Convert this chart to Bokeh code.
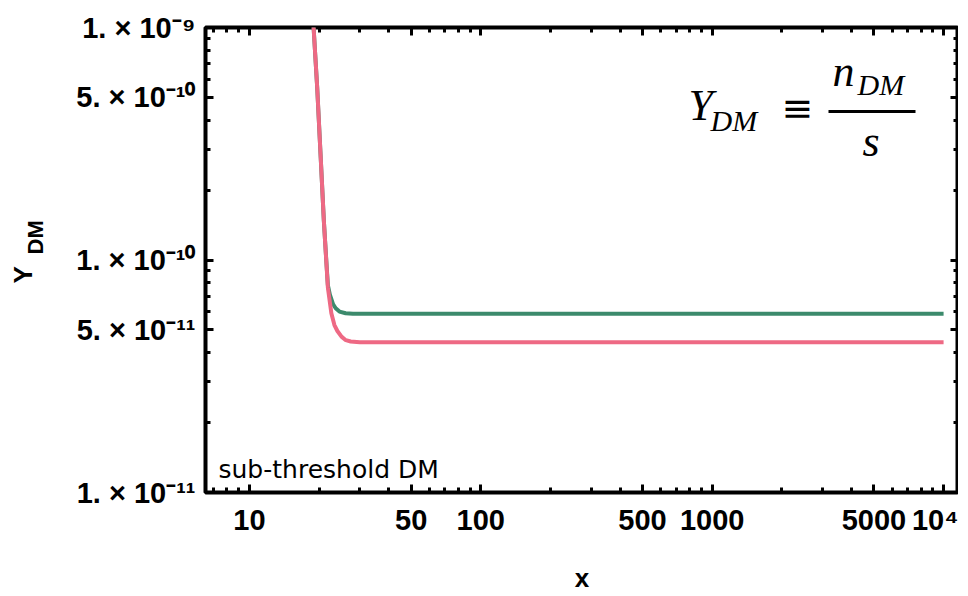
import numpy as np
from bokeh.plotting import figure
from bokeh.layouts import row
from bokeh.models import (LogAxis, FixedTicker, Label, BoxAnnotation, Range1d,
                          CustomJSTickFormatter)
from bokeh.embed import file_html
from bokeh.resources import INLINE

# ---------------- data ----------------
x_green = [18.0, 18.94, 19.63, 20.29, 20.97, 21.5, 21.83, 22.27, 23.0, 23.6, 24.5,
           26.06, 28.0, 35.0, 100.0, 1000.0, 10000.0]
y_green = [2.6e-9, 1.0e-9, 5.52e-10, 2.87e-10, 1.48e-10, 9.9e-11, 7.8e-11, 7.1e-11,
           6.45e-11, 6.2e-11, 6.0e-11, 5.9e-11, 5.87e-11, 5.87e-11, 5.87e-11,
           5.87e-11, 5.87e-11]

x_pink = [18.0, 18.94, 19.63, 20.29, 20.97, 21.83, 22.6, 23.3, 24.0, 25.0, 26.1,
          27.4, 30.0, 100.0, 1000.0, 10000.0]
y_pink = [2.6e-9, 1.0e-9, 5.52e-10, 2.87e-10, 1.48e-10, 7.62e-11, 5.9e-11, 5.25e-11,
          4.95e-11, 4.68e-11, 4.52e-11, 4.46e-11, 4.43e-11, 4.43e-11, 4.43e-11,
          4.43e-11]

x_major = [10, 50, 100, 500, 1000, 5000, 10000]
x_major_labels = ["10", "50", "100", "500", "1000", "5000", "10⁴"]
x_minor = [7, 8, 9, 20, 30, 40, 60, 70, 80, 90, 200, 300, 400, 600, 700, 800, 900,
           2000, 3000, 4000, 6000, 7000, 8000, 9000]

y_major = [1e-11, 5e-11, 1e-10, 5e-10, 1e-9]
y_major_labels = ["1. × 10⁻¹¹", "5. × 10⁻¹¹", "1. × 10⁻¹⁰", "5. × 10⁻¹⁰", "1. × 10⁻⁹"]
y_minor = [2e-11, 3e-11, 4e-11, 6e-11, 7e-11, 8e-11, 9e-11,
           2e-10, 3e-10, 4e-10, 6e-10, 7e-10, 8e-10, 9e-10]

x_range = (6.46, 11600)
y_range = (1e-11, 1e-9)

GREEN = "#3c8a6c"
PINK = "#ee6984"

# ---------------- layout constants ----------------
LW = 48              # width of the strip that carries the rotated y label
FT, FH = 27, 465     # frame top / height
FL, FB = 205, 492    # frame left / bottom on the page
BOT = 100
K = 0.36             # baseline correction (fraction of font size)


def strip_fig():
    f = figure(frame_width=LW, frame_height=FH, min_border_left=0,
               min_border_right=0, min_border_top=FT, min_border_bottom=BOT,
               x_range=(0, 1), y_range=(0, 1),
               x_axis_location=None, y_axis_location=None,
               output_backend="svg", toolbar_location=None)
    f.outline_line_color = None
    f.grid.visible = False
    f.background_fill_color = "white"
    f.border_fill_color = "white"
    return f


lf = strip_fig()

p = figure(x_axis_type="log", y_axis_type="log",
           x_range=Range1d(*x_range), y_range=Range1d(*y_range),
           frame_width=753, frame_height=FH,
           min_border_left=FL - LW, min_border_top=FT, min_border_right=0,
           min_border_bottom=BOT,
           output_backend="svg", toolbar_location=None)
p.background_fill_color = "white"
p.border_fill_color = "white"
p.grid.visible = False
p.outline_line_color = "black"
p.outline_line_width = 4
p.outline_line_alpha = 1

xt = FixedTicker(ticks=x_major, minor_ticks=x_minor)
yt = FixedTicker(ticks=y_major, minor_ticks=y_minor)


def style_axis(ax, size=29):
    ax.axis_line_color = None
    ax.major_tick_in = 8
    ax.major_tick_out = 0
    ax.minor_tick_in = 5
    ax.minor_tick_out = 0
    ax.major_tick_line_width = 3
    ax.minor_tick_line_width = 3
    ax.major_tick_line_color = "black"
    ax.minor_tick_line_color = "black"
    ax.major_label_text_font = "Liberation Sans"
    ax.major_label_text_font_style = "bold"
    ax.major_label_text_font_size = f"{size}px"
    ax.major_label_text_color = "black"


xa = p.xaxis[0]
xa.ticker = xt
xa.major_label_overrides = {t: s for t, s in zip(x_major, x_major_labels)}
style_axis(xa, 29)
xa.major_label_standoff = 11
xa.axis_label = "x"
xa.axis_label_text_font = "Liberation Sans"
xa.axis_label_text_font_style = "bold"
xa.axis_label_text_font_size = "26px"
xa.axis_label_text_color = "black"
xa.axis_label_standoff = 24

ya = p.yaxis[0]
ya.ticker = yt
ya.major_label_overrides = {t: s for t, s in zip(y_major, y_major_labels)}
style_axis(ya, 29)
ya.major_label_standoff = 10

blank = CustomJSTickFormatter(code="return ''")
top = LogAxis(ticker=xt, formatter=blank)
style_axis(top)
top.major_label_text_font_size = "0px"
top.major_label_standoff = 0
p.add_layout(top, "above")
right = LogAxis(ticker=yt, formatter=blank)
style_axis(right)
right.major_label_text_font_size = "0px"
right.major_label_standoff = 0
p.add_layout(right, "right")

# ---------------- curves ----------------
p.line(x_green, y_green, line_color=GREEN, line_width=4)
p.line(x_pink, y_pink, line_color=PINK, line_width=4)


def lab(fig, ox, oy, text, px, py, size, font="Liberation Serif", style="italic",
        rotated=False):
    if rotated:
        sx, sy, ang = px - ox - K * size, oy - py, np.pi / 2
    else:
        sx, sy, ang = px - ox, oy - py + K * size, 0.0
    fig.add_layout(Label(x=sx, y=sy, x_units="screen", y_units="screen",
                         text=text, text_font=font, text_font_style=style,
                         text_font_size=f"{size}px", text_color="black",
                         text_align="left", text_baseline="alphabetic", angle=ang))


# y-axis title  Y_DM (rotated), in the left strip
lab(lf, 0, FB, "Y", 32, 283, 26, font="Liberation Sans", style="bold", rotated=True)
lab(lf, 0, FB, "DM", 43, 254, 22, font="Liberation Sans", style="bold", rotated=True)

# in-plot note
lab(p, FL, FB, "sub-threshold DM", 218, 478, 25, font="DejaVu Sans", style="normal")

# formula  Y_DM ≡ n_DM / s
lab(p, FL, FB, "Y", 688, 121, 44)
lab(p, FL, FB, "DM", 710, 131, 30)
lab(p, FL, FB, "≡", 781, 121, 38, font="DejaVu Sans", style="normal")
lab(p, FL, FB, "n", 832, 87, 44)
lab(p, FL, FB, "DM", 857, 95, 30)
lab(p, FL, FB, "s", 862, 157, 44)
p.add_layout(BoxAnnotation(left=828 - FL, right=915 - FL,
                           bottom=FB - 112.5, top=FB - 109.5,
                           left_units="screen", right_units="screen",
                           bottom_units="screen", top_units="screen",
                           fill_color="black", fill_alpha=1, line_color=None))

layout = row(lf, p)
open("out.html", "w").write(file_html(layout, INLINE))
